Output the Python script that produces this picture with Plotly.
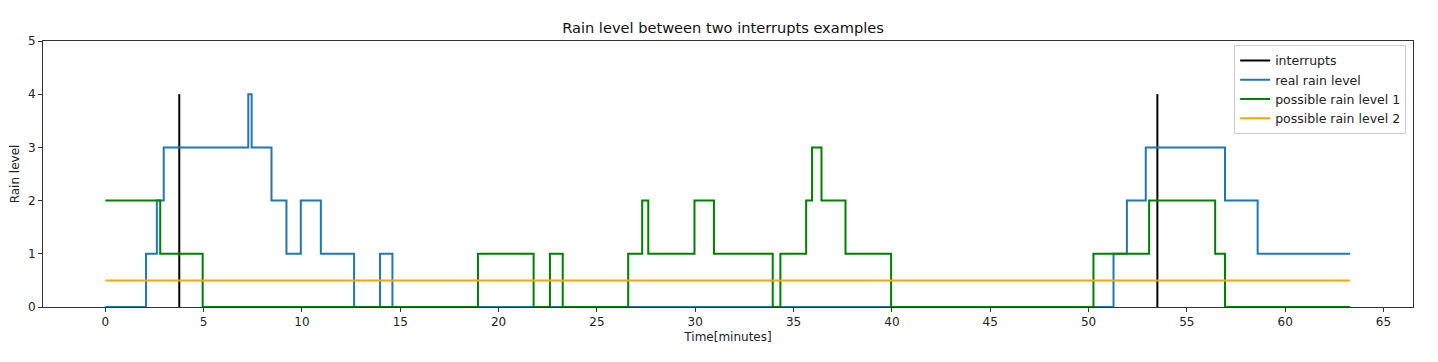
import plotly.graph_objects as go

# Interrupt times (minutes) and their marker height
interrupt_times = [3.76, 53.5]
interrupt_height = 4

# Real rain level (step transitions)
real_t = [0, 2.07, 2.62, 2.97, 7.27, 7.44, 8.45, 9.21, 9.94, 10.96, 12.65, 13.97, 14.6,
          51.27, 51.95, 52.91, 56.94, 58.6, 63.3]
real_lvl = [0, 1, 2, 3, 4, 3, 2, 1, 2, 1, 0, 1, 0, 1, 2, 3, 2, 1, 1]

# Possible rain level 1 (step transitions)
pos1_t = [0, 2.79, 4.95, 18.95, 21.78, 22.61, 23.26, 26.59, 27.3, 27.61, 29.96, 30.95,
          33.94, 34.33, 35.64, 35.94, 36.42, 37.64, 39.96, 50.25, 53.08, 56.44, 56.94, 63.3]
pos1_lvl = [2, 1, 0, 1, 0, 1, 0, 1, 2, 1, 2, 1, 0, 1, 2, 3, 2, 1, 0, 1, 2, 1, 0, 0]

# Possible rain level 2
pos2_t = [0, 63.3]
pos2_lvl = [0.5, 0.5]

x_ticks = list(range(0, 70, 5))
y_ticks = [0, 1, 2, 3, 4, 5]

ix, iy = [], []
for t in interrupt_times:
    ix += [t, t, None]
    iy += [0, interrupt_height, None]

fig = go.Figure()
fig.add_trace(go.Scatter(x=ix, y=iy, mode="lines", name="interrupts",
                         line=dict(color="black", width=2)))
fig.add_trace(go.Scatter(x=real_t, y=real_lvl, mode="lines", name="real rain level",
                         line=dict(color="#1f77b4", width=2, shape="hv")))
fig.add_trace(go.Scatter(x=pos1_t, y=pos1_lvl, mode="lines", name="possible rain level 1",
                         line=dict(color="green", width=2, shape="hv")))
fig.add_trace(go.Scatter(x=pos2_t, y=pos2_lvl, mode="lines", name="possible rain level 2",
                         line=dict(color="orange", width=2)))

axis_common = dict(showline=True, linecolor="#333", linewidth=1, mirror=True,
                   showgrid=False, zeroline=False, ticks="outside", ticklen=4,
                   tickcolor="#333", tickfont=dict(size=12, color="#222"),
                   automargin=False)

W, H = 1430, 354
fig.update_layout(
    width=W, height=H,
    margin=dict(l=35, r=25, t=33, b=55),
    paper_bgcolor="white", plot_bgcolor="white",
    font=dict(family="DejaVu Sans", color="#222"),
    title=dict(text="Rain level between two interrupts examples", x=0.5, xanchor="center",
               y=1 - 20 / H, yanchor="middle", font=dict(size=14.6, color="#111")),
    xaxis=dict(range=[-3.17, 66.5], tickvals=x_ticks,
               title=dict(text="Time[minutes]", font=dict(size=12), standoff=4), **axis_common),
    yaxis=dict(range=[0, 5], tickvals=y_ticks,
               title=dict(text="Rain level", font=dict(size=12), standoff=6), **axis_common),
    legend=dict(x=0.995, y=0.985, xanchor="right", yanchor="top",
                bgcolor="rgba(255,255,255,0.9)", bordercolor="#ccc", borderwidth=1,
                font=dict(size=12.5), tracegroupgap=0, itemwidth=30),
    showlegend=True,
)

fig.write_html("out.html")
